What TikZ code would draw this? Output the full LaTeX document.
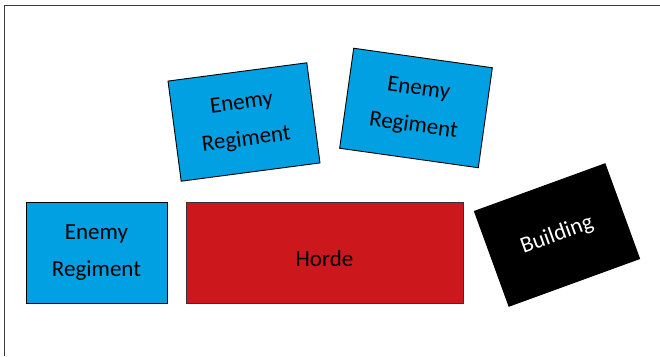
\documentclass[tikz,border=0pt]{standalone}
\usepackage{fontspec}
\setmainfont{Carlito}
\definecolor{enemyblue}{RGB}{0,160,226}
\definecolor{hordered}{RGB}{204,24,28}
\definecolor{framegray}{RGB}{60,60,60}
\tikzset{
  unitbox/.style={draw=black, line width=0.9pt, inner sep=0pt, align=center,
    font=\fontsize{23}{37}\selectfont, text=black},
  enemybox/.style={unitbox, fill=enemyblue, minimum width=140pt, minimum height=101pt},
  hordebox/.style={unitbox, fill=hordered, draw=black!80, minimum width=277pt, minimum height=101pt},
  buildingbox/.style={unitbox, fill=black, text=white, minimum width=139pt, minimum height=101pt},
  framestyle/.style={draw=framegray, line width=1.4pt}
}
\begin{document}
\begin{tikzpicture}[x=1pt,y=1pt]
\useasboundingbox (0,0) rectangle (660,356);
\coordinate (fb) at (4.5,0);
\coordinate (ftl) at (4.5,350.5);
\coordinate (fr) at (660,350.5);
\draw[framestyle] (fb) -- (ftl) -- (fr);
\node[enemybox, rotate=7.5] (e1) at (244,234) {Enemy\\Regiment};
\node[enemybox, rotate=-8] (e2) at (416,248) {Enemy\\Regiment};
\node[enemybox, minimum width=141pt] (e3) at (96.5,103.5) {Enemy\\Regiment};
\node[hordebox] (horde) at (324.5,103.5) {\raisebox{-14pt}[0pt][0pt]{Horde}};
\node[buildingbox, rotate=20] (bld) at (557,121) {Building};
\end{tikzpicture}
\end{document}
